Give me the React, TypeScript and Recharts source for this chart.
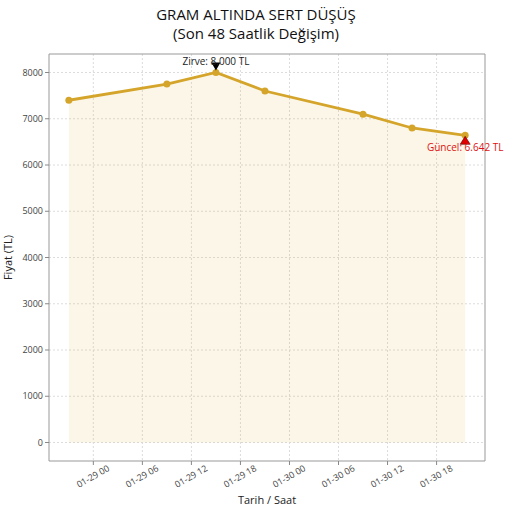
import React from 'react';
import {
  ComposedChart, Area, Line, XAxis, YAxis, CartesianGrid, ReferenceDot, ReferenceArea, Label,
} from 'recharts';

// hours counted from 01-29 00:00
const hours = [-3, 9, 15, 21, 33, 39, 45.5];
const prices = [7400, 7750, 8000, 7600, 7100, 6800, 6642];
const xTicks = [0, 6, 12, 18, 24, 30, 36, 42];
const xTickLabels = ['01-29 00', '01-29 06', '01-29 12', '01-29 18', '01-30 00', '01-30 06', '01-30 12', '01-30 18'];
const yTicks = [0, 1000, 2000, 3000, 4000, 5000, 6000, 7000, 8000];

const data = hours.map((t, i) => ({ t, price: prices[i] }));

const peakIdx = prices.indexOf(Math.max(...prices));
const lastIdx = prices.length - 1;
const fmtTL = (v: number) => v.toLocaleString('de-DE') + ' TL';

const span = hours[hours.length - 1] - hours[0];
const xDomain = [hours[0] - span * 0.05, hours[hours.length - 1] + span * 0.05];
const yDomain = [-400, 8400];

const GOLD = '#D4A52A';
const FONT = '"Open Sans", sans-serif';

const XTick = ({ x, y, payload }: any) => {
  const i = xTicks.indexOf(payload.value);
  return (
    <g transform={`translate(${x},${y + 10})`}>
      <text textAnchor="middle" dominantBaseline="middle" transform="rotate(-30)" fontSize={9} fill="#444" fontFamily={FONT}>
        {xTickLabels[i]}
      </text>
    </g>
  );
};

const DownTri = ({ cx, cy }: any) => (
  <g>
    <path d={`M${cx - 4.5},${cy - 10} L${cx + 4.5},${cy - 10} L${cx},${cy - 2} Z`} fill="#000" />
    <text x={cx} y={cy - 8} textAnchor="middle" fontSize={10} fill="#222" fontFamily={FONT}>
      {'Zirve: ' + fmtTL(prices[peakIdx])}
    </text>
  </g>
);

const UpTri = ({ cx, cy }: any) => (
  <g>
    <path d={`M${cx},${cy + 1} L${cx + 5},${cy + 9} L${cx - 5},${cy + 9} Z`} fill="#e00000" stroke="#500" strokeWidth={0.6} />
    <text x={cx} y={cy + 16} textAnchor="middle" fontSize={10} fill="#e01010" fontFamily={FONT}>
      {'Güncel: ' + fmtTL(prices[lastIdx])}
    </text>
  </g>
);

export default function App() {
  return (
    <div style={{ position: 'absolute', left: 0, top: 0, width: 512, height: 512, background: '#fff', fontFamily: FONT }}>
      <div style={{ position: 'absolute', top: 5, width: 512, textAlign: 'center', fontSize: 15, lineHeight: '18px', color: '#111' }}>
        GRAM ALTINDA SERT DÜŞÜŞ
      </div>
      <div style={{ position: 'absolute', top: 24, width: 512, textAlign: 'center', fontSize: 15, lineHeight: '18px', color: '#111' }}>
        (Son 48 Saatlik Değişim)
      </div>
      <ComposedChart width={512} height={512} data={data} margin={{ top: 54, right: 27, left: 0, bottom: 0 }}>
        <CartesianGrid strokeDasharray="2 2" stroke="#dcdcdc" horizontalValues={yTicks} verticalValues={xTicks} />
        <XAxis
          dataKey="t" type="number" domain={xDomain} ticks={xTicks} height={51}
          tick={<XTick />} tickLine={{ stroke: '#888' }} tickSize={4} axisLine={false} allowDataOverflow
        >
          <Label value="Tarih / Saat" position="insideBottom" offset={8} fontSize={11} fill="#222" fontFamily={FONT} />
        </XAxis>
        <YAxis
          type="number" domain={yDomain} ticks={yTicks} width={49} tickSize={4}
          tick={{ fontSize: 9, fill: '#444', fontFamily: FONT }} tickLine={{ stroke: '#888' }} axisLine={false} allowDataOverflow
        >
          <Label value="Fiyat (TL)" angle={-90} position="insideLeft" offset={8} fontSize={11} fill="#222" fontFamily={FONT} style={{ textAnchor: 'middle' }} />
        </YAxis>
        <ReferenceArea x1={xDomain[0]} x2={xDomain[1]} y1={yDomain[0]} y2={yDomain[1]} fill="none" stroke="#999" strokeWidth={1} ifOverflow="visible" />
        <Area dataKey="price" type="linear" baseValue={0} fill="#DAA520" fillOpacity={0.1} stroke="none" isAnimationActive={false} />
        <Line
          dataKey="price" type="linear" stroke={GOLD} strokeWidth={2.8}
          dot={{ r: 3.5, fill: GOLD, stroke: GOLD, strokeWidth: 0 }} activeDot={false} isAnimationActive={false}
        />
        <ReferenceDot x={hours[peakIdx]} y={prices[peakIdx]} shape={<DownTri />} ifOverflow="visible" />
        <ReferenceDot x={hours[lastIdx]} y={prices[lastIdx]} shape={<UpTri />} ifOverflow="visible" />
      </ComposedChart>
    </div>
  );
}
